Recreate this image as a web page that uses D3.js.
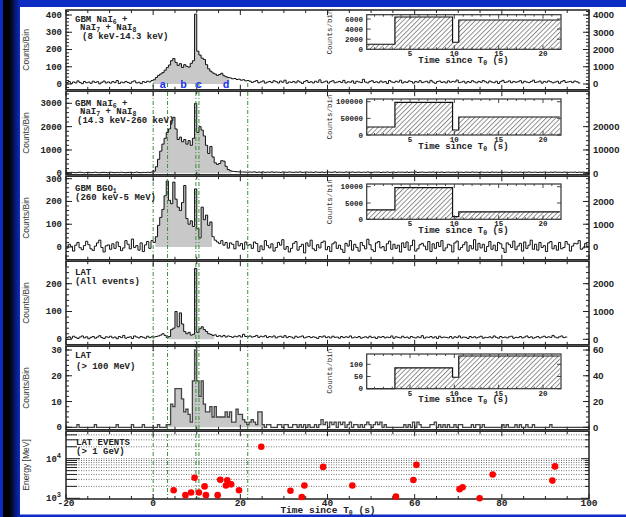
<!DOCTYPE html>
<html lang="en">
<head>
<meta charset="utf-8"/>
<title>GRB light curves</title>
<script src="https://cdn.jsdelivr.net/npm/d3@7"></script>
<style>
  body { margin: 0; background: #fff; }
  svg { display: block; }
  text { white-space: pre; }
  .mono { font-family: "Liberation Mono", "DejaVu Sans Mono", monospace; font-weight: bold; fill: #222; }
  .sans { font-family: "Liberation Sans", Arial, sans-serif; font-weight: bold; fill: #222; }
  .ylab { font-family: "Liberation Sans", Arial, sans-serif; fill: #333; }
</style>
</head>
<body>
<div id="chart"></div>
<script>
// ---- data: 0.5 s bins starting at T0-20 s ----
var binStart = -20, binWidth = 0.5;

// GBM NaI 8 keV-14.3 keV
var naiLowCounts = [
  8,14,3,12,6,18,9,2,15,7, 11,4,16,9,13,1,10,17,6,12, 5,14,8,20,3,11,7,15,9,4, 13,18,6,10,2,14,9,16,12,20,
  25,38,50,58,66,80,95,110,135,148, 125,108,118,96,112,102,98,120,135,405, 190,168,150,142,112,88,74,64,58,50,
  55,62,48,42,38,35,30,32,26,28, 22,25,18,20,
  16,9,14,20,7,12,18,5,11,15, 8,19,13,6,17,10,22,4,12,9, 15,7,18,11,3,14,20,9,13,6, 16,10,24,8,12,17,5,14,19,7,
  11,15,9,21,6,13,10,18,4,16, 12,8,27,11,6,15,19,9,13,7, 17,10,14,3,20,12,8,16,11,22, 6,13,9,18,14,5,15,10,19,8,
  12,16,7,21,11,4,14,17,9,13, 6,18,10,15,12,23,8,11,16,5, 14,9,19,12,7,15,10,20,13,6, 17,11,8,16,3,14,21,9,12,18,
  7,15,10,13,19,6,16,11,8,14, 22,9,12,17,5,15,10,18,13,7, 11,16,4,14,20,9,12,15,8,17, 13,6
];

// GBM NaI 14.3 keV-260 keV
var naiHighCounts = [
  35,28,42,31,25,38,45,30,22,36, 40,27,33,48,29,24,37,41,32,26, 44,35,28,39,30,46,33,25,38,42, 29,36,50,31,27,40,34,45,38,52,
  90,280,600,950,1250,1500,1750,1900,2250,2400, 1900,1450,1550,1350,1450,1250,1400,1200,1500,3000,
  1750,2000,1850,1600,1200,850,1150,700,450,380, 420,540,520,300,160,110,85,75,65,60, 55,58,50,48,
  55,48,62,40,52,45,58,38,50,44, 60,42,53,47,36,55,49,41,57,46, 39,52,44,61,37,48,55,43,50,35, 58,46,41,53,38,49,56,42,47,60,
  36,51,44,39,54,47,42,58,40,45, 52,37,49,43,56,41,38,50,46,55, 34,48,42,57,39,45,51,36,53,44, 47,40,55,38,49,43,58,35,46,52,
  41,37,50,44,56,39,48,42,53,36, 45,51,38,47,40,55,43,49,34,52, 46,39,57,42,48,37,53,44,40,50, 36,55,43,47,38,52,41,49,45,35,
  54,40,46,42,51,37,48,44,56,39, 43,50,36,47,41,53,45,38,49,42, 55,40,46,37,52,44,39,48,43,51, 38,47,42,50,36,45
];

// GBM BGO 260 keV-5 MeV
var bgoCounts = [
  -5,12,3,-18,8,20,-3,-12,6,25, 10,-8,-15,4,18,30,-2,-22,5,9, -10,14,-6,22,2,-16,-4,28,12,-8, 35,-2,6,-14,18,-20,9,24,-6,28,
  20,45,95,130,165,225,290,205,190,285, 210,175,160,195,270,125,100,115,90,255, 80,40,175,120,140,95,110,45,30,22,
  15,28,8,20,-5,18,12,-8,25,5, 15,-10,22,8,
  10,-6,22,15,-20,5,-12,28,6,-4, 14,-18,-2,20,8,32,-10,2,-22,-6, 16,24,-14,2,12,-26,18,4,30,-8, -16,10,-4,20,26,-12,2,-20,14,22,
  -6,8,-10,-24,16,4,28,-14,12,-2, -18,20,6,-8,34,10,-12,-20,18,24, -4,2,-16,14,26,-10,12,-6,8,-22, 18,-2,22,-14,6,30,-18,-8,10,16,
  4,-12,24,-20,14,-6,20,2,28,-16, -4,12,8,-22,18,26,-12,-2,10,22, -18,6,-8,32,-14,16,-4,12,-20,2, 24,-10,8,-16,20,14,-6,-24,18,10,
  -2,26,-12,4,16,-18,22,-6,8,30, -10,12,-14,20,-2,6,-20,18,24,-8, 6,-14,20,-8,-2,24,12,-18,4,16, 14,28,-10,-4,16,2
];

// LAT all events
var latAllCounts = [
  6,9,4,11,7,3,8,12,5,9, 2,7,10,4,8,13,6,3,9,7, 11,5,8,2,10,6,14,4,7,9, 3,12,8,5,10,7,4,11,6,9,
  8,10,12,15,20,14,6,10,35,40, 100,45,95,55,28,20,25,15,18,255, 25,38,45,35,28,20,18,14,16,10,
  13,9,14,8,12,10,7,11,9,13, 8,18,10,9,
  12,8,10,14,7,11,9,13,6,10, 8,12,5,9,11,7,13,6,10,8, 4,11,7,9,12,5,8,10,6,9, 7,3,10,8,12,6,9,5,11,7,
  8,4,10,6,9,7,12,5,8,6, 10,4,7,9,5,11,6,8,3,9, 7,10,5,8,6,12,4,9,7,5, 11,6,8,4,10,7,5,9,6,13,
  4,8,7,10,5,9,3,11,6,8, 7,5,10,4,9,6,12,5,8,7, 3,10,6,9,5,8,11,4,7,6, 9,5,12,7,4,10,6,8,5,9,
  11,4,7,6,10,5,8,12,6,9, 4,7,10,5,8,11,6,9,7,14, 8,5,9,12,6,8
];

// LAT > 100 MeV
var latHighCounts = [
  0,0,0,0,0,1,0,0,0,0, 0,0,0,1,0,0,0,0,0,0, 0,0,0,1,0,0,0,0,0,0, 1,0,0,0,0,1,0,0,0,0,
  0,0,1,0,0,0,1,1,9,8, 15,15,15,11,6,7,5,2,18,30, 18,12,18,9,6,6,8,4,8,4, 4,4,4,6,4,6,2,2,7,5, 5,3,2,1,
  2,3,2,1,6,6,1,0,1,1, 0,0,0,1,1,0,1,1,0,0, 1,1,0,1,0,1,0,1,0,0, 1,0,1,3,1,2,0,2,1,2,
  0,2,1,2,0,1,2,0,1,1, 0,1,0,1,2,1,0,1,2,1, 2,0,1,0,0,0,0,0,0,0, 0,1,0,1,0,2,0,2,1,0,
  0,0,0,1,1,2,0,1,0,1, 0,1,0,0,1,0,1,1,0,0, 0,0,1,0,1,1,0,1,0,0, 0,0,0,0,0,0,1,0,1,0,
  0,0,1,0,1,0,0,1,0,0, 1,0,0,0,0,0,0,0,1,0, 0,0,0,0,0,0,0,0,0,0, 0,0,0,0,0,0
];

// LAT events > 1 GeV: [time since T0 (s), energy (MeV)]
var latEvents = [
  [24.8, 20000], [9.5, 3300], [15.4, 2950], [17.0, 2850], [16.7, 2100], [17.9, 2250],
  [11.8, 2000], [4.7, 1600], [8.7, 1400], [7.4, 1200], [10.5, 1400], [12.1, 1200],
  [14.8, 1200], [19.7, 1600], [31.5, 1550], [34.7, 2100], [34.1, 1080], [39.0, 6200],
  [45.7, 2100], [55.7, 1100], [59.7, 2900], [60.4, 7000], [70.3, 1700], [71.0, 1900],
  [74.9, 1000], [77.9, 4000], [91.6, 2800], [92.2, 6400]
];

// time intervals a-d and their boundaries
var intervalEdges = [0, 3.3, 9.8, 10.5, 21.7];
var intervalNames = ["a", "b", "c", "d"];
var intervalNameT = [2.2, 7.0, 10.5, 16.7];

// inset histograms (integrated counts per interval)
var insetEdges = [0.12, 3.3, 9.8, 10.5, 21.9];
var insetNaiLow = [1000, 6400, 1400, 5800];
var insetNaiHigh = [24000, 98000, 15000, 54000];
var insetBgo = [2900, 9700, 800, 2300];
var insetLatHigh = [0, 85, 47, 134];
var insetTimeTicks = [5, 10, 15, 20];

var xTicks = [-20, 0, 20, 40, 60, 80, 100];

// ---- drawing ----
var W = 626, H = 517;
var svg = d3.select("#chart").append("svg").attr("width", W).attr("height", H);
var defs = svg.append("defs");

// slide background
var grad = defs.append("linearGradient").attr("id", "leftband");
grad.append("stop").attr("offset", "0").attr("stop-color", "#0c2cc4");
grad.append("stop").attr("offset", "0.12").attr("stop-color", "#0c2cc4");
grad.append("stop").attr("offset", "0.17").attr("stop-color", "#000");
grad.append("stop").attr("offset", "0.45").attr("stop-color", "#000");
grad.append("stop").attr("offset", "1").attr("stop-color", "#0c2cc4");
svg.append("rect").attr("width", W).attr("height", H).attr("fill", "#fff");
svg.append("rect").attr("width", W).attr("height", 7).attr("fill", "#0c2cc4");
svg.append("rect").attr("y", 514.5).attr("width", W).attr("height", 3).attr("fill", "#0c2cc4");
svg.append("rect").attr("width", 20).attr("height", H).attr("fill", "url(#leftband)");

var hatch = defs.append("pattern").attr("id", "hatch").attr("patternUnits", "userSpaceOnUse")
  .attr("width", 3.4).attr("height", 10).attr("patternTransform", "rotate(45)");
hatch.append("line").attr("x1", 0.5).attr("x2", 0.5).attr("y1", 0).attr("y2", 10)
  .attr("stroke", "#555").attr("stroke-width", 0.7);

var x = d3.scaleLinear().domain([-20, 100]).range([66, 589]);
var xL = x.range()[0], xR = x.range()[1];

function richText(sel, str, small) {
  var shift = 0;
  str.split(/([_^]\w)/).forEach(function(p) {
    if (!p) return;
    var t = sel.append("tspan");
    if (p[0] === "_" || p[0] === "^") {
      var d = p[0] === "_" ? 2 : -4;
      t.attr("dy", d - shift).attr("font-size", small).text(p.slice(1));
      shift = d;
    } else {
      t.attr("dy", -shift).text(p);
      shift = 0;
    }
  });
  return sel;
}

var panels = [
  { counts: naiLowCounts, top: 10, bottom: 89.8, y: d3.scaleLinear().domain([0, 400]).range([84, 15]),
    ticks: [0, 100, 200, 300, 400], minor: 20,
    yr: d3.scaleLinear().domain([0, 4000]).range([84, 15]), rticks: [0, 1000, 2000, 3000, 4000], rminor: 200,
    fill: [0, 17.5], label: "Counts/Bin",
    text: [[75, 21.5, "GBM NaI_6 +"], [80, 30, "NaI_7 + NaI_8"], [82, 38.5, "(8 keV-14.3 keV)"]] },
  { counts: naiHighCounts, top: 91.2, bottom: 174.8, y: d3.scaleLinear().domain([0, 3000]).range([173.3, 103.3]),
    ticks: [0, 1000, 2000, 3000], minor: 200,
    yr: d3.scaleLinear().domain([0, 30000]).range([173.3, 103.3]), rticks: [0, 10000, 20000], rminor: 2000,
    fill: [0, 18], label: "Counts/Bin",
    text: [[75, 105.5, "GBM NaI_6 +"], [80, 114, "NaI_7 + NaI_8"], [77, 122.5, "(14.3 keV-260 keV)"]] },
  { counts: bgoCounts, top: 176.2, bottom: 259.8, y: d3.scaleLinear().domain([0, 300]).range([247, 178.7]),
    ticks: [0, 100, 200, 300], minor: 20,
    yr: d3.scaleLinear().domain([0, 3000]).range([247, 178.7]), rticks: [0, 1000, 2000], rminor: 200,
    fill: [0.5, 13.5], label: "Counts/Bin",
    text: [[75, 191, "GBM BGO_1"], [75, 200, "(260 keV-5 MeV)"]] },
  { counts: latAllCounts, top: 261.2, bottom: 344.8, y: d3.scaleLinear().domain([0, 200]).range([339.3, 283.7]),
    ticks: [0, 100, 200], minor: 20,
    yr: d3.scaleLinear().domain([0, 2000]).range([339.3, 283.7]), rticks: [0, 1000, 2000], rminor: 200,
    fill: [3.5, 14], label: "Counts/Bin",
    text: [[75, 275, "LAT"], [75, 284, "(All events)"]] },
  { counts: latHighCounts, top: 346.2, bottom: 429.8, y: d3.scaleLinear().domain([0, 30]).range([427.3, 350]),
    ticks: [0, 10, 20, 30], minor: 2, stroke: "#444", sw: 1.3,
    yr: d3.scaleLinear().domain([0, 60]).range([427.3, 350]), rticks: [0, 20, 40, 60], rminor: 4,
    fill: [3.5, 26], label: "Counts/Bin",
    text: [[75, 358, "LAT"], [76, 369, "(> 100 MeV)"]] }
];

panels.forEach(function(p, k) {
  var g = svg.append("g");
  var cid = "clip" + k;
  defs.append("clipPath").attr("id", cid).append("rect")
    .attr("x", xL).attr("y", p.top).attr("width", xR - xL).attr("height", p.bottom - p.top);
  var pts = p.counts.map(function(c, i) { return [binStart + i * binWidth, c]; });
  pts.push([binStart + p.counts.length * binWidth, p.counts[p.counts.length - 1]]);
  var body = g.append("g").attr("clip-path", "url(#" + cid + ")");
  var fpts = pts.filter(function(d) { return d[0] >= p.fill[0] && d[0] <= p.fill[1]; });
  body.append("path")
    .attr("d", d3.area().curve(d3.curveStepAfter)
      .x(function(d) { return x(d[0]); }).y0(p.y(0)).y1(function(d) { return p.y(Math.max(0, d[1])); })(fpts))
    .attr("fill", "#c8c8c8");
  p.body = body;
  p.line = d3.line().curve(d3.curveStepAfter)
    .x(function(d) { return x(d[0]); }).y(function(d) { return p.y(d[1]); })(pts);
});

// energy panel
var pE = { top: 431.2, bottom: 499, y: d3.scaleLog().domain([1000, 10000]).range([498.3, 458.7]) };
var logVals = [];
[1000, 10000].forEach(function(dec) { for (var m = 1; m <= 9; m++) logVals.push(dec * m); });
logVals = logVals.filter(function(v) { return pE.y(v) >= pE.top; });
svg.append("g").selectAll("line").data(logVals.filter(function(v) { return v > 1000; })).enter().append("line")
  .attr("x1", xL).attr("x2", xR).attr("y1", function(v) { return pE.y(v); }).attr("y2", function(v) { return pE.y(v); })
  .attr("stroke", "#666").attr("stroke-width", 0.9).attr("stroke-dasharray", "1,1.5");

// interval boundaries
svg.append("g").selectAll("line").data(intervalEdges).enter().append("line")
  .attr("x1", function(d) { return x(d); }).attr("x2", function(d) { return x(d); })
  .attr("y1", 83).attr("y2", pE.bottom)
  .attr("stroke", "#3a8f3a").attr("stroke-width", 1).attr("stroke-dasharray", "4,2,1,2");

// light curves
panels.forEach(function(p) {
  p.body.append("path").attr("d", p.line).attr("fill", "none")
    .attr("stroke", p.stroke || "#111").attr("stroke-width", p.sw || 1);
});

// frames, ticks, labels
function frame(top, bottom) {
  svg.append("rect").attr("x", xL).attr("y", top).attr("width", xR - xL).attr("height", bottom - top)
    .attr("fill", "none").attr("stroke", "#222").attr("stroke-width", 1.5);
  var tg = svg.append("g").attr("stroke", "#222").attr("stroke-width", 1);
  d3.range(-20, 100.1, 5).forEach(function(t) {
    var len = (t % 20 === 0) ? 5 : 3;
    tg.append("line").attr("x1", x(t)).attr("x2", x(t)).attr("y1", top).attr("y2", top + len);
    tg.append("line").attr("x1", x(t)).attr("x2", x(t)).attr("y1", bottom).attr("y2", bottom - len);
  });
  return tg;
}

function yAxis(tg, scale, ticks, minor, side, top, bottom) {
  var x0 = side === "left" ? xL : xR, dir = side === "left" ? 1 : -1;
  var lo = Math.ceil(scale.invert(bottom) / minor) * minor, hi = scale.invert(top);
  d3.range(lo, hi, minor).forEach(function(v) {
    tg.append("line").attr("x1", x0).attr("x2", x0 + dir * 3).attr("y1", scale(v)).attr("y2", scale(v));
  });
  ticks.forEach(function(v) {
    tg.append("line").attr("x1", x0).attr("x2", x0 + dir * 6).attr("y1", scale(v)).attr("y2", scale(v));
  });
}

panels.forEach(function(p) {
  var tg = frame(p.top, p.bottom);
  yAxis(tg, p.y, p.ticks, p.minor, "left", p.top, p.bottom);
  yAxis(tg, p.yr, p.rticks, p.rminor, "right", p.top, p.bottom);
  svg.append("g").selectAll("text").data(p.ticks).enter().append("text").attr("class", "mono")
    .attr("x", 62).attr("y", function(v) { return p.y(v); }).attr("dy", "0.33em")
    .attr("text-anchor", "end").attr("font-size", 9).text(function(v) { return v; });
  svg.append("g").selectAll("text").data(p.rticks).enter().append("text").attr("class", "sans")
    .attr("x", 593).attr("y", function(v) { return p.yr(v); }).attr("dy", "0.35em")
    .attr("font-size", 9.5).text(function(v) { return v; });
  svg.append("text").attr("class", "ylab").attr("font-size", 8.5).attr("text-anchor", "middle")
    .attr("transform", "translate(29," + (p.top + p.bottom) / 2 + ") rotate(-90)").text(p.label);
  p.text.forEach(function(t) {
    richText(svg.append("text").attr("class", "mono").attr("font-size", 9).attr("x", t[0]).attr("y", t[1]), t[2], 6.5);
  });
});

// energy panel frame and axis
var tgE = frame(pE.top, pE.bottom);
logVals.forEach(function(v) {
  var major = (v === 1000 || v === 10000);
  tgE.append("line").attr("x1", xL).attr("x2", xL + (major ? 14 : 11)).attr("y1", pE.y(v)).attr("y2", pE.y(v));
  tgE.append("line").attr("x1", xR).attr("x2", xR - (major ? 8 : 4)).attr("y1", pE.y(v)).attr("y2", pE.y(v));
});
["10^3", "10^4"].forEach(function(s, i) {
  var t = svg.append("text").attr("class", "mono").attr("font-size", 9).attr("text-anchor", "end")
    .attr("x", 61).attr("y", pE.y([1000, 10000][i]) + 3);
  richText(t, s, 7);
});
svg.append("text").attr("class", "ylab").attr("font-size", 8.5).attr("text-anchor", "middle")
  .attr("transform", "translate(29,465) rotate(-90)").text("Energy [MeV]");
richText(svg.append("text").attr("class", "mono").attr("font-size", 9).attr("x", 76).attr("y", 445), "LAT EVENTS", 7);
richText(svg.append("text").attr("class", "mono").attr("font-size", 9).attr("x", 76).attr("y", 454), "(> 1 GeV)", 7);

svg.append("g").selectAll("circle").data(latEvents).enter().append("circle")
  .attr("cx", function(d) { return x(d[0]); }).attr("cy", function(d) { return pE.y(d[1]); })
  .attr("r", 3.3).attr("fill", "#ff0000");

// bottom time axis
svg.append("g").selectAll("text").data(xTicks).enter().append("text").attr("class", "mono")
  .attr("x", function(d) { return x(d); }).attr("y", 506).attr("text-anchor", "middle")
  .attr("font-size", 9.5).text(function(d) { return d; });
richText(svg.append("text").attr("class", "mono").attr("font-size", 9.5).attr("text-anchor", "middle")
  .attr("x", 328).attr("y", 513), "Time since T_0 (s)", 6.5);

// interval letters
svg.append("g").selectAll("text").data(intervalNames).enter().append("text").attr("class", "mono")
  .attr("x", function(d, i) { return x(intervalNameT[i]); }).attr("y", 88.3).attr("text-anchor", "middle")
  .attr("font-size", 11).style("fill", "#1f35f0").text(function(d) { return d; });

// insets
var xi = d3.scaleLinear().domain([5, 20]).range([410, 543]);
var insets = [
  { vals: insetNaiLow, top: 14.7, bottom: 49.3, y: d3.scaleLinear().domain([0, 6000]).range([49.3, 19]), ticks: [0, 2000, 4000, 6000] },
  { vals: insetNaiHigh, top: 99, bottom: 135, y: d3.scaleLinear().domain([0, 100000]).range([135, 101.7]), ticks: [0, 50000, 100000] },
  { vals: insetBgo, top: 184, bottom: 219.3, y: d3.scaleLinear().domain([0, 10000]).range([219.3, 186.7]), ticks: [0, 5000, 10000] },
  { vals: insetLatHigh, top: 354, bottom: 388.7, y: d3.scaleLinear().domain([0, 100]).range([388.7, 364.3]), ticks: [0, 50, 100] }
];
insets.forEach(function(s) {
  var g = svg.append("g");
  var l = 366.7, r = 561;
  g.append("rect").attr("x", l).attr("y", s.top).attr("width", r - l).attr("height", s.bottom - s.top).attr("fill", "#fff");
  var pts = s.vals.map(function(v, i) { return [insetEdges[i], v]; });
  pts.push([insetEdges[insetEdges.length - 1], s.vals[s.vals.length - 1]]);
  g.append("path").attr("d", d3.area().curve(d3.curveStepAfter)
      .x(function(d) { return xi(d[0]); }).y0(s.y(0)).y1(function(d) { return s.y(d[1]); })(pts))
    .attr("fill", "url(#hatch)");
  g.append("path").attr("d", d3.line().curve(d3.curveStepAfter)
      .x(function(d) { return xi(d[0]); }).y(function(d) { return s.y(d[1]); })(pts))
    .attr("fill", "none").attr("stroke", "#111").attr("stroke-width", 1.2);
  g.append("rect").attr("x", l).attr("y", s.top).attr("width", r - l).attr("height", s.bottom - s.top)
    .attr("fill", "none").attr("stroke", "#333").attr("stroke-width", 1.2);
  var tg = g.append("g").attr("stroke", "#333").attr("stroke-width", 0.9);
  d3.range(1, 22, 1).forEach(function(t) {
    var len = t % 5 === 0 ? 4 : 2;
    tg.append("line").attr("x1", xi(t)).attr("x2", xi(t)).attr("y1", s.bottom).attr("y2", s.bottom - len);
    tg.append("line").attr("x1", xi(t)).attr("x2", xi(t)).attr("y1", s.top).attr("y2", s.top + len);
  });
  s.ticks.forEach(function(v) {
    tg.append("line").attr("x1", l).attr("x2", l + 4).attr("y1", s.y(v)).attr("y2", s.y(v));
    tg.append("line").attr("x1", r).attr("x2", r - 4).attr("y1", s.y(v)).attr("y2", s.y(v));
  });
  g.selectAll(".yt").data(s.ticks).enter().append("text").attr("class", "mono")
    .attr("x", 363).attr("y", function(v) { return s.y(v); }).attr("dy", "0.35em")
    .attr("text-anchor", "end").attr("font-size", 7.5).text(function(v) { return v; });
  g.selectAll(".xt").data(insetTimeTicks).enter().append("text").attr("class", "mono")
    .attr("x", function(t) { return xi(t); }).attr("y", s.bottom + 6.8).attr("text-anchor", "middle")
    .attr("font-size", 7.5).text(function(t) { return t; });
  richText(g.append("text").attr("class", "mono").attr("font-size", 9).attr("text-anchor", "middle")
    .attr("x", 463.5).attr("y", s.bottom + 13.5), "Time since T_0 (s)", 6.5);
  g.append("text").attr("class", "mono").attr("font-size", 7.5).attr("text-anchor", "middle")
    .style("font-weight", "normal")
    .attr("transform", "translate(332," + (s.top + s.bottom) / 2 + ") rotate(-90)").text("Counts/bin");
});
</script>
</body>
</html>
